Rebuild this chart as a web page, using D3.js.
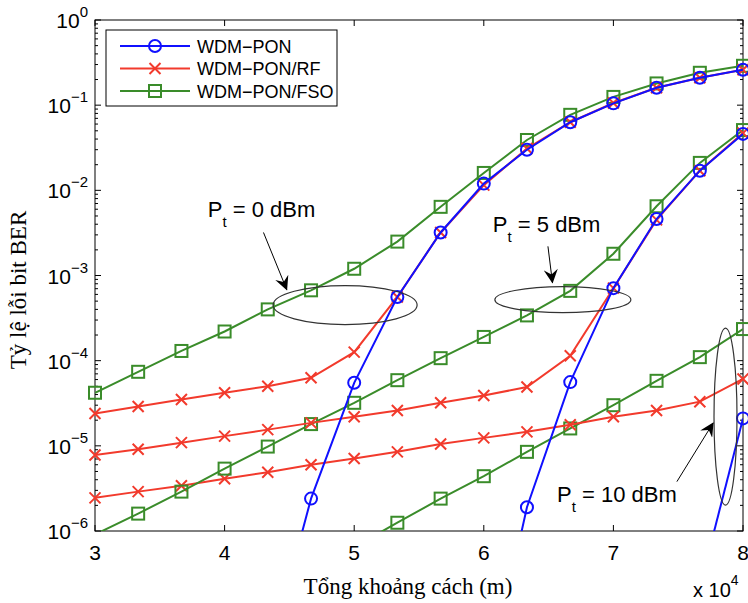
<!DOCTYPE html>
<html>
<head>
<meta charset="utf-8">
<script src="https://cdn.jsdelivr.net/npm/d3@7"></script>
<style>
  body { margin: 0; background: #fff; }
  text { font-family: "Liberation Sans", Arial, sans-serif; }
</style>
</head>
<body>
<script>
// khoảng cách (x 10^4 m)
var distance = [3, 3.333, 3.667, 4, 4.333, 4.667, 5, 5.333, 5.667, 6, 6.333, 6.667, 7, 7.333, 7.667, 8];

// BER, Pt = 0 dBm
var pon0  = [null, null, null, null, 3e-8, 2.4e-6, 5.5e-5, 5.6e-4, 3.2e-3, 1.2e-2, 3.0e-2, 6.3e-2, 0.105, 0.16, 0.21, 0.26];
var rf0   = [2.4e-5, 2.9e-5, 3.5e-5, 4.2e-5, 5.0e-5, 6.3e-5, 1.26e-4, 5.6e-4, 3.2e-3, 1.15e-2, 3.1e-2, 6.3e-2, 0.106, 0.16, 0.21, 0.26];
var fso0  = [4.2e-5, 7.4e-5, 1.3e-4, 2.2e-4, 4.0e-4, 6.7e-4, 1.2e-3, 2.5e-3, 6.4e-3, 1.6e-2, 3.9e-2, 7.7e-2, 0.125, 0.18, 0.24, 0.29];
// Pt = 5 dBm
var pon5  = [null, null, null, null, null, null, null, null, null, 1e-8, 1.9e-6, 5.6e-5, 7.1e-4, 4.6e-3, 1.7e-2, 4.6e-2];
var rf5   = [7.8e-6, 9.1e-6, 1.09e-5, 1.3e-5, 1.55e-5, 1.86e-5, 2.2e-5, 2.6e-5, 3.2e-5, 3.9e-5, 4.9e-5, 1.14e-4, 7.1e-4, 4.5e-3, 1.7e-2, 4.7e-2];
var fso5  = [9.1e-7, 1.6e-6, 2.9e-6, 5.4e-6, 9.8e-6, 1.8e-5, 3.2e-5, 5.9e-5, 1.07e-4, 1.9e-4, 3.4e-4, 6.6e-4, 1.8e-3, 6.5e-3, 2.1e-2, 5.1e-2];
// Pt = 10 dBm
var pon10 = [null, null, null, null, null, null, null, null, null, null, null, null, null, null, 2.2e-7, 2.1e-5];
var rf10  = [2.45e-6, 2.9e-6, 3.4e-6, 4.1e-6, 4.9e-6, 6.0e-6, 7.1e-6, 8.5e-6, 1.05e-5, 1.24e-5, 1.46e-5, 1.77e-5, 2.2e-5, 2.6e-5, 3.3e-5, 6.1e-5];
var fso10 = [null, null, null, null, null, null, 6.5e-7, 1.25e-6, 2.4e-6, 4.4e-6, 8.5e-6, 1.6e-5, 3.0e-5, 5.8e-5, 1.1e-4, 2.35e-4];

var xTicks = [3, 4, 5, 6, 7, 8];
var yExps = [0, -1, -2, -3, -4, -5, -6];
var legendNames = ["WDM−PON", "WDM−PON/RF", "WDM−PON/FSO"];
var colors = {pon: "#1010ff", rf: "#f23a2c", fso: "#3a8c2a"};

// chú thích: Pt, vị trí nhãn, mũi tên, ellipse (toạ độ dữ liệu)
var notes = [
  {pt: "0",  lx: 3.87,  ly: 4.8e-3, ax1: 4.30, ay1: 3.2e-3, ax2: 4.48, ay2: 6.8e-4, ex: 4.93,  ey: 4.5e-4, rx: 72,   ry: 19.5},
  {pt: "5",  lx: 6.07,  ly: 3.2e-3, ax1: 6.495, ay1: 2.2e-3, ax2: 6.53, ay2: 8.2e-4, ex: 6.61,  ey: 5.2e-4, rx: 68,   ry: 13},
  {pt: "10", lx: 6.565, ly: 2.2e-6, ax1: 7.49, ay1: 3.8e-6, ax2: 7.77, ay2: 1.86e-5, ex: 7.865, ey: 2.2e-5, rx: 11.5, ry: 88.5}
];

var W = 748, H = 603;
var margin = {top: 20, right: 5, bottom: 72, left: 95};
var width = W - margin.left - margin.right;
var height = H - margin.top - margin.bottom;

var svg = d3.select("body").append("svg")
    .attr("width", W)
    .attr("height", H);

var x = d3.scaleLinear().domain([3, 8]).range([margin.left, margin.left + width]);
var y = d3.scaleLog().domain([1e-6, 1]).range([margin.top + height, margin.top]);

svg.append("defs").append("clipPath").attr("id", "plotclip")
  .append("rect")
    .attr("x", margin.left).attr("y", margin.top)
    .attr("width", width).attr("height", height);

svg.select("defs").append("marker")
    .attr("id", "arrowhead")
    .attr("viewBox", "0 0 10 10")
    .attr("refX", 9.5).attr("refY", 5)
    .attr("markerWidth", 17).attr("markerHeight", 14)
    .attr("markerUnits", "userSpaceOnUse")
    .attr("orient", "auto")
  .append("path")
    .attr("d", "M0,0 L10,5 L0,10 L3.5,5 Z")
    .attr("fill", "#000");

// khung + ticks
var axisG = svg.append("g");
var minorTicks = [];
for (var e = -6; e < 0; e++) {
  for (var m = 2; m <= 9; m++) minorTicks.push(m * Math.pow(10, e));
}

// x ticks (dưới và trên)
xTicks.forEach(function (t) {
  axisG.append("line").attr("x1", x(t)).attr("x2", x(t))
    .attr("y1", y(1e-6)).attr("y2", y(1e-6) - 6).attr("stroke", "#000");
  axisG.append("line").attr("x1", x(t)).attr("x2", x(t))
    .attr("y1", y(1)).attr("y2", y(1) + 6).attr("stroke", "#000");
  axisG.append("text").attr("x", x(t)).attr("y", y(1e-6) + 29)
    .attr("text-anchor", "middle").attr("font-size", 21).text(t);
});

// y ticks
yExps.forEach(function (ex) {
  var v = Math.pow(10, ex);
  axisG.append("line").attr("x1", x(3)).attr("x2", x(3) + 6)
    .attr("y1", y(v)).attr("y2", y(v)).attr("stroke", "#000");
  axisG.append("line").attr("x1", x(8)).attr("x2", x(8) - 6)
    .attr("y1", y(v)).attr("y2", y(v)).attr("stroke", "#000");
  var lab = axisG.append("text").attr("x", x(3) - 7).attr("y", y(v) + 8)
    .attr("text-anchor", "end").attr("font-size", 21);
  lab.append("tspan").text("10");
  lab.append("tspan").attr("dy", -11).attr("font-size", 15).text(ex === 0 ? "0" : "−" + (-ex));
});
minorTicks.forEach(function (v) {
  axisG.append("line").attr("x1", x(3)).attr("x2", x(3) + 3)
    .attr("y1", y(v)).attr("y2", y(v)).attr("stroke", "#000");
  axisG.append("line").attr("x1", x(8)).attr("x2", x(8) - 3)
    .attr("y1", y(v)).attr("y2", y(v)).attr("stroke", "#000");
});

axisG.append("rect")
    .attr("x", margin.left).attr("y", margin.top)
    .attr("width", width).attr("height", height)
    .attr("fill", "none").attr("stroke", "#000").attr("stroke-width", 1);

// đường dữ liệu
var series = [
  {vals: fso10, kind: "fso"}, {vals: rf10, kind: "rf"}, {vals: pon10, kind: "pon"},
  {vals: fso5, kind: "fso"},  {vals: rf5, kind: "rf"},  {vals: pon5, kind: "pon"},
  {vals: fso0, kind: "fso"},  {vals: rf0, kind: "rf"},  {vals: pon0, kind: "pon"}
];

var line = d3.line()
    .defined(function (d) { return d.v !== null; })
    .x(function (d) { return x(d.x); })
    .y(function (d) { return y(d.v); });

function drawMarker(g, kind, cx, cy) {
  var c = colors[kind];
  if (kind === "pon") {
    g.append("circle").attr("cx", cx).attr("cy", cy).attr("r", 6)
      .attr("fill", "none").attr("stroke", c).attr("stroke-width", 2);
  } else if (kind === "rf") {
    var s = 5.5;
    g.append("path")
      .attr("d", "M" + (cx - s) + "," + (cy - s) + "L" + (cx + s) + "," + (cy + s) +
                 "M" + (cx - s) + "," + (cy + s) + "L" + (cx + s) + "," + (cy - s))
      .attr("stroke", c).attr("stroke-width", 2).attr("fill", "none");
  } else {
    g.append("rect").attr("x", cx - 6).attr("y", cy - 6).attr("width", 12).attr("height", 12)
      .attr("fill", "none").attr("stroke", c).attr("stroke-width", 2);
  }
}

var dataG = svg.append("g");
series.forEach(function (s) {
  var pts = distance.map(function (d, i) { return {x: d, v: s.vals[i]}; });
  dataG.append("path")
    .datum(pts)
    .attr("clip-path", "url(#plotclip)")
    .attr("d", line)
    .attr("fill", "none")
    .attr("stroke", colors[s.kind])
    .attr("stroke-width", 2);
  var mg = dataG.append("g");
  pts.filter(function (p) { return p.v !== null && p.v >= 1e-6 && p.v <= 1; })
    .forEach(function (p) { drawMarker(mg, s.kind, x(p.x), y(p.v)); });
});

// chú thích Pt
var noteG = svg.append("g");
notes.forEach(function (n) {
  noteG.append("ellipse")
    .attr("cx", x(n.ex)).attr("cy", y(n.ey))
    .attr("rx", n.rx).attr("ry", n.ry)
    .attr("fill", "none").attr("stroke", "#333").attr("stroke-width", 1.2);
  noteG.append("line")
    .attr("x1", x(n.ax1)).attr("y1", y(n.ay1))
    .attr("x2", x(n.ax2)).attr("y2", y(n.ay2))
    .attr("stroke", "#000").attr("stroke-width", 1)
    .attr("marker-end", "url(#arrowhead)");
  var t = noteG.append("text").attr("x", x(n.lx)).attr("y", y(n.ly)).attr("font-size", 22);
  t.append("tspan").text("P");
  t.append("tspan").attr("dy", 10).attr("font-size", 15).text("t");
  t.append("tspan").attr("dy", -10).text(" = " + n.pt + " dBm");
});

// chú giải
var lg = svg.append("g");
lg.append("rect").attr("x", 106).attr("y", 30).attr("width", 231).attr("height", 76)
  .attr("fill", "#fff").attr("stroke", "#000").attr("stroke-width", 1);
["pon", "rf", "fso"].forEach(function (k, i) {
  var ry = 46 + i * 22.5;
  lg.append("line").attr("x1", 120).attr("x2", 190).attr("y1", ry).attr("y2", ry)
    .attr("stroke", colors[k]).attr("stroke-width", 2);
  drawMarker(lg, k, 155, ry);
  lg.append("text").attr("x", 197).attr("y", ry + 6.5).attr("font-size", 18).text(legendNames[i]);
});

// nhãn trục
svg.append("text")
    .attr("transform", "translate(26,290) rotate(-90)")
    .attr("text-anchor", "middle")
    .style("font-family", "'Liberation Serif', 'Times New Roman', serif")
    .attr("font-size", 23)
    .text("Tỷ lệ lỗi bit BER");

svg.append("text")
    .attr("x", 408).attr("y", 594)
    .attr("text-anchor", "middle")
    .style("font-family", "'Liberation Serif', 'Times New Roman', serif")
    .attr("font-size", 23)
    .text("Tổng khoảng cách (m)");

var mult = svg.append("text").attr("x", 693).attr("y", 597).attr("font-size", 20);
mult.append("tspan").text("x 10");
mult.append("tspan").attr("dy", -12).attr("font-size", 14).text("4");
</script>
</body>
</html>
